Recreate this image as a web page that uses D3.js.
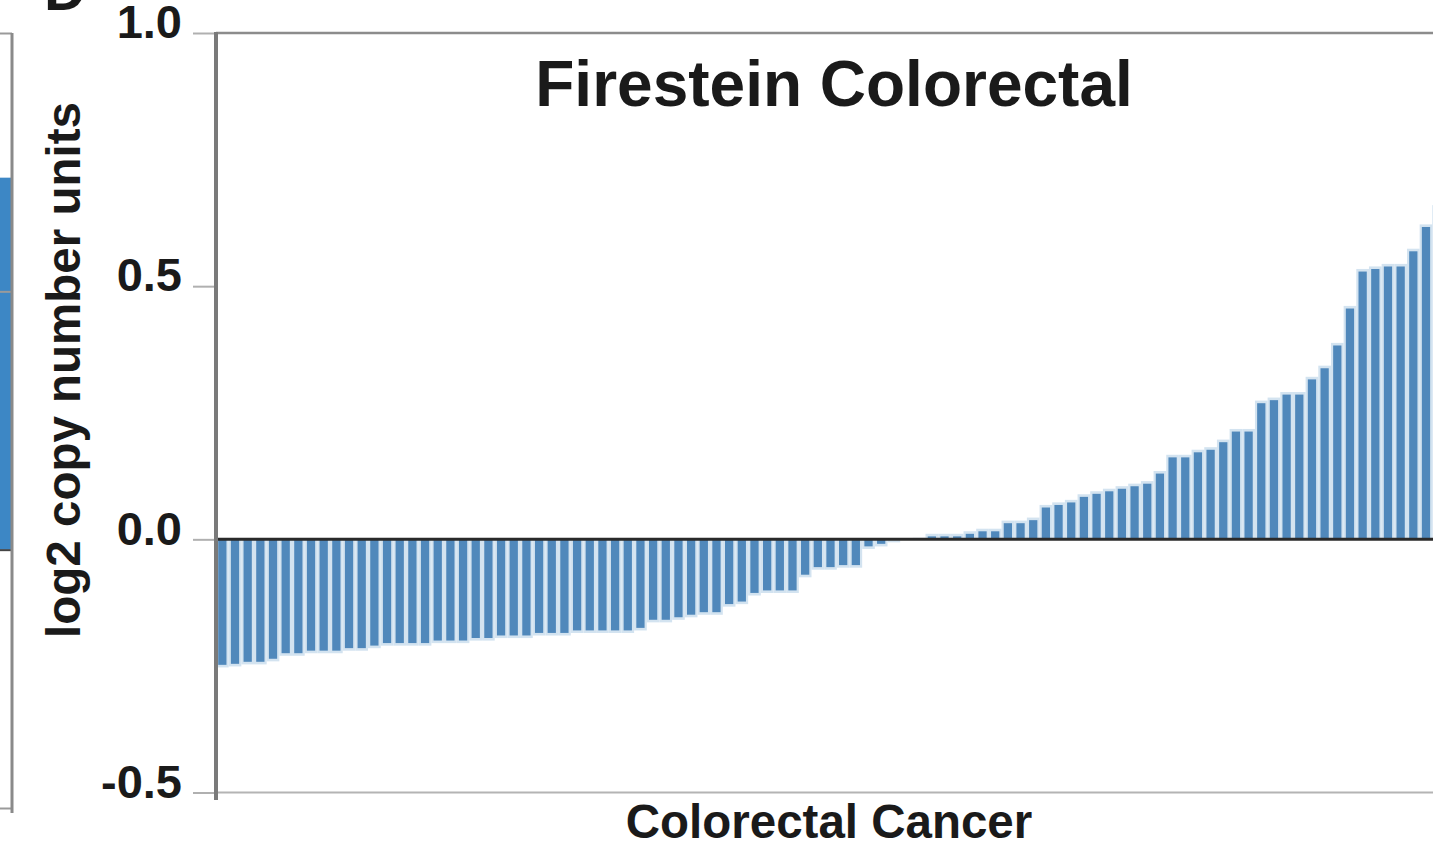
<!DOCTYPE html>
<html>
<head>
<meta charset="utf-8">
<script src="https://cdn.jsdelivr.net/npm/d3@7"></script>
<style>
  body { margin: 0; background: #fff; }
  svg { display: block; }
  text { font-family: "Liberation Sans", Arial, Helvetica, sans-serif; font-weight: bold; fill: #1a1a1a; }
</style>
</head>
<body>
<svg id="plot-space" width="1433" height="858"></svg>
<script>

// samples sorted by log2 copy number
const samples = d3.range(97);
const copyNumber = [
	-0.253, -0.251, -0.247, -0.247, -0.241, -0.230, -0.230, -0.225, -0.225, -0.225,
	-0.220, -0.220, -0.215, -0.210, -0.210, -0.210, -0.210, -0.205, -0.205, -0.205,
	-0.200, -0.200, -0.195, -0.195, -0.195, -0.190, -0.190, -0.190, -0.185, -0.185,
	-0.185, -0.185, -0.185, -0.180, -0.164, -0.164, -0.159, -0.154, -0.149, -0.149,
	-0.133, -0.128, -0.111, -0.106, -0.106, -0.106, -0.075, -0.060, -0.060, -0.056,
	-0.056, -0.019, -0.014, -0.006, 0.000, 0.003, 0.011, 0.011, 0.011, 0.016,
	0.021, 0.021, 0.037, 0.037, 0.043, 0.068, 0.073, 0.078, 0.089, 0.095,
	0.100, 0.105, 0.110, 0.115, 0.135, 0.167, 0.167, 0.177, 0.182, 0.197,
	0.218, 0.218, 0.274, 0.280, 0.291, 0.291, 0.321, 0.343, 0.388, 0.461,
	0.534, 0.539, 0.544, 0.544, 0.574, 0.622, 0.660
];
const yTicks = [-0.5, 0, 0.5, 1.0];
const yTickLabels = ["-0.5", "0.0", "0.5", "1.0"];

// neighbouring panel, only its right edge is in the crop
const prevPanelTicks = [-0.5, 0, 0.5, 1.0];
const prevPanelValue = [0.72];

const title = "Firestein Colorectal";
const xTitle = "Colorectal Cancer";
const yTitle = "log2 copy number units";
const panelLetter = "D";


function plot_copy_number() {
	const canvas = d3.select("svg");
	let width = 1433;

	let left = 216;
	let step = 12.67;

	let yScale = d3.scaleLinear().domain([-0.5, 1.0]).range([792.5, 33]);
	let xScale = d3.scaleBand().domain(samples).range([left, left + samples.length * step]).padding(0);

	// bars: light halo with the darker core inside
	const bars = canvas.append("g");
	bars.selectAll("rect.halo")
		.data(copyNumber)
		.join("rect")
		.attr("class", "halo")
		.attr("x", (d, i) => xScale(i))
		.attr("width", xScale.bandwidth())
		.attr("y", (d) => yScale(Math.max(0, d)))
		.attr("height", (d) => Math.abs(yScale(d) - yScale(0)))
		.attr("fill", "#d3e3f0");

	let inset = 2.2;
	bars.selectAll("rect.core")
		.data(copyNumber)
		.join("rect")
		.attr("class", "core")
		.attr("x", (d, i) => xScale(i) + inset)
		.attr("width", xScale.bandwidth() - 2 * inset)
		.attr("y", (d) => d > 0 ? yScale(d) + 2.6 : yScale(0))
		.attr("height", (d) => Math.max(0, Math.abs(yScale(d) - yScale(0)) - 2.6))
		.attr("fill", "#5088bb");

	// frame lines
	canvas.append("line")
		  .attr("x1", left).attr("x2", width)
		  .attr("y1", yScale(1.0)).attr("y2", yScale(1.0))
		  .attr("stroke", "#8c8c8c").attr("stroke-width", 2.5);
	canvas.append("line")
		  .attr("x1", left).attr("x2", width)
		  .attr("y1", yScale(-0.5)).attr("y2", yScale(-0.5))
		  .attr("stroke", "#b4b4b4").attr("stroke-width", 2);
	canvas.append("line")
		  .attr("x1", left).attr("x2", width)
		  .attr("y1", yScale(0)).attr("y2", yScale(0))
		  .attr("stroke", "#2a2a2a").attr("stroke-width", 3);

	// y axis
	let yAxis = d3.axisLeft().scale(yScale)
				  .tickValues(yTicks)
				  .tickSize(23)
				  .tickPadding(11)
				  .tickFormat((d, i) => yTickLabels[i]);
	const axisG = canvas.append("g").attr("transform", `translate(${left},0)`).call(yAxis);
	axisG.select(".domain").remove();
	axisG.selectAll(".tick line").attr("stroke", "#b0b0b0").attr("stroke-width", 2);
	axisG.selectAll(".tick text")
		 .attr("dy", "0.1em")
		 .style("font-size", "47px")
		 .style("font-family", "'Liberation Sans', Arial, sans-serif")
		 .style("font-weight", "bold")
		 .attr("fill", "#1a1a1a");
	canvas.append("line")
		  .attr("x1", left).attr("x2", left)
		  .attr("y1", yScale(1.0) - 1).attr("y2", 800)
		  .attr("stroke", "#7a7a7a").attr("stroke-width", 4);

	// titles
	canvas.append("text")
		  .attr("x", 834).attr("y", 106)
		  .attr("text-anchor", "middle")
		  .style("font-size", "64px")
		  .text(title);
	canvas.append("text")
		  .attr("x", 829).attr("y", 838)
		  .attr("text-anchor", "middle")
		  .style("font-size", "47.5px")
		  .text(xTitle);
	canvas.append("text")
		  .attr("transform", "translate(80,370) rotate(-90)")
		  .attr("text-anchor", "middle")
		  .style("font-size", "47.5px")
		  .text(yTitle);

	// edge of the previous panel
	let prevY = d3.scaleLinear().domain([-0.5, 1.0]).range([808, 33]);
	canvas.append("g")
		  .selectAll("rect")
		  .data(prevPanelValue)
		  .join("rect")
		  .attr("x", 0).attr("width", 11)
		  .attr("y", (d) => prevY(d))
		  .attr("height", (d) => prevY(0) - prevY(d))
		  .attr("fill", "#3d87c5");
	const prevAxis = canvas.append("g").attr("transform", "translate(12,0)")
		  .call(d3.axisLeft(prevY).tickValues(prevPanelTicks).tickSize(14).tickFormat(""));
	prevAxis.select(".domain").remove();
	prevAxis.selectAll(".tick line").attr("stroke", "#9a9a9a").attr("stroke-width", 2);
	prevAxis.selectAll(".tick").filter((d) => d === 0).select("line").attr("stroke", "#444");
	canvas.append("line")
		  .attr("x1", 12).attr("x2", 12)
		  .attr("y1", 33).attr("y2", 813)
		  .attr("stroke", "#8a8a8a").attr("stroke-width", 3);

	canvas.append("text")
		  .attr("x", 44).attr("y", 10)
		  .style("font-size", "58px")
		  .text(panelLetter);
}

plot_copy_number();
</script>
</body>
</html>
